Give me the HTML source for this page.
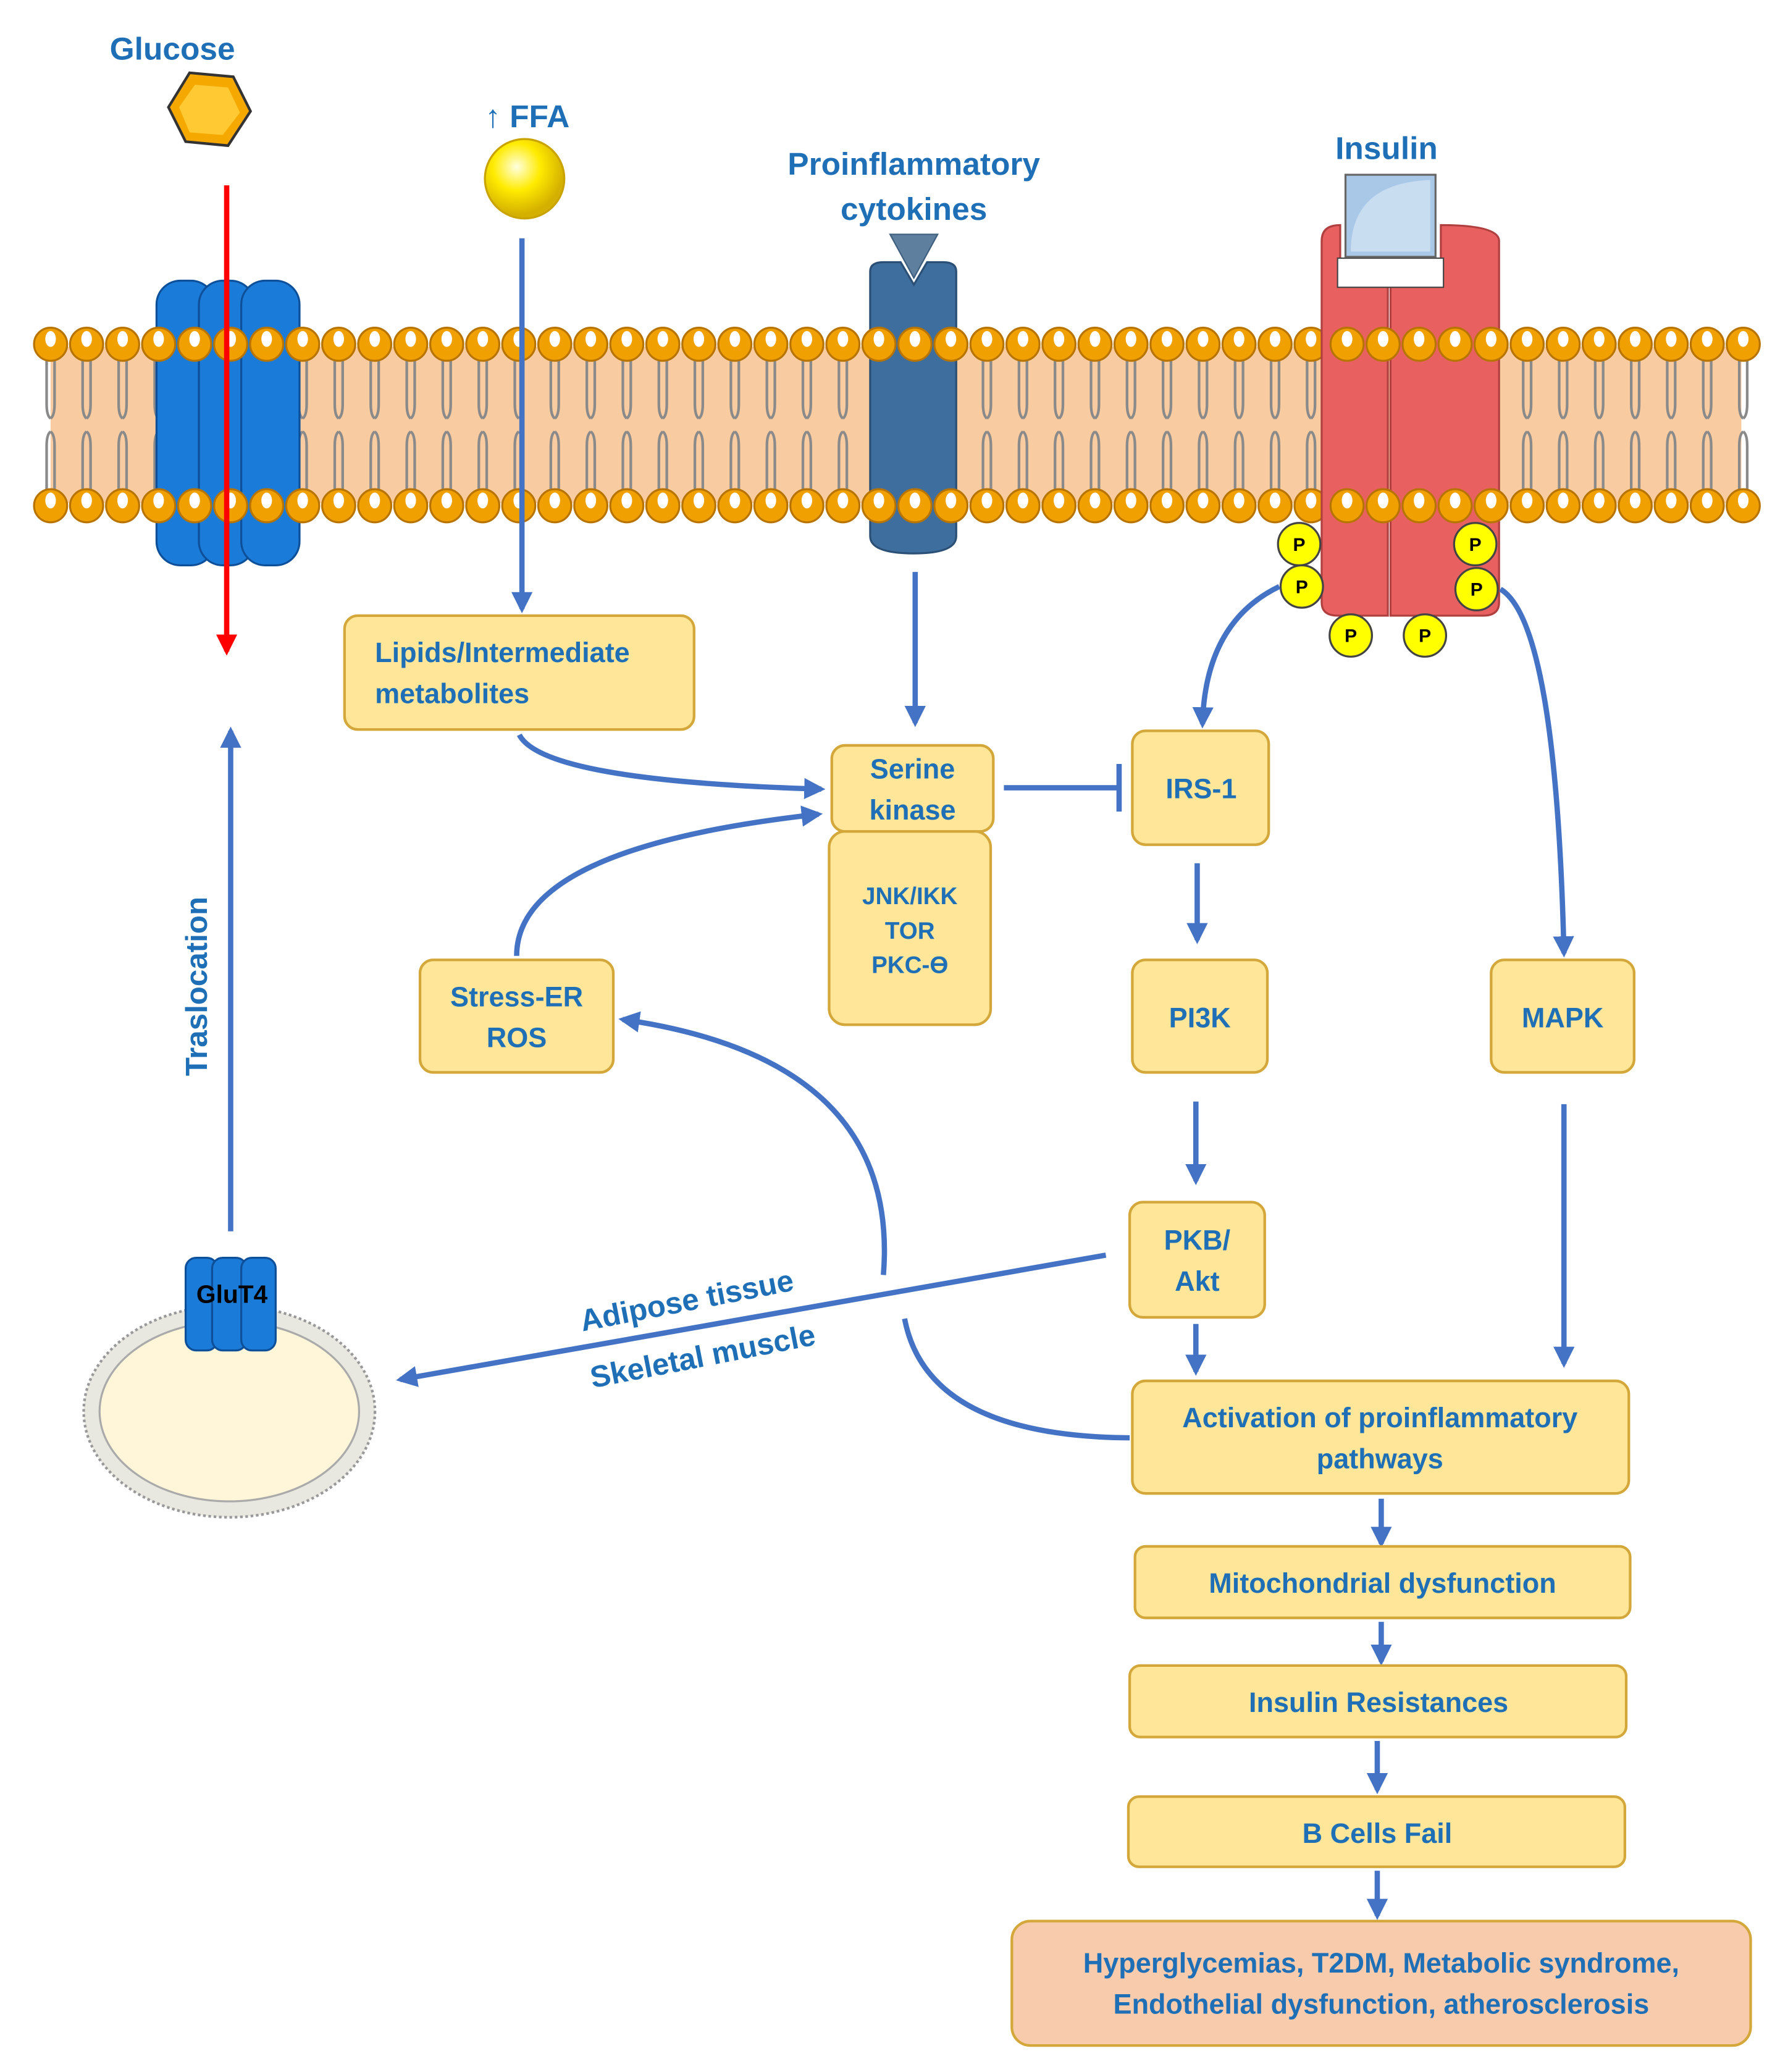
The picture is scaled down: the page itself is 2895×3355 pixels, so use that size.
<!DOCTYPE html>
<html><head><meta charset="utf-8"><style>
html,body{margin:0;padding:0;background:#fff}
svg{display:block}
text{font-family:"Liberation Sans",sans-serif;font-weight:bold;fill:#1F6FB7}
</style></head><body>
<svg width="2895" height="3355" viewBox="0 0 1350 1565" xmlns="http://www.w3.org/2000/svg">
<defs>
<marker id="ah" viewBox="0 0 10 10" refX="8" refY="5" markerWidth="4" markerHeight="4" orient="auto"><path d="M0,0L10,5L0,10z" fill="#4472C4"/></marker>
<marker id="ahr" viewBox="0 0 10 10" refX="8" refY="5" markerWidth="4" markerHeight="4" orient="auto"><path d="M0,0L10,5L0,10z" fill="#F00"/></marker>
<radialGradient id="ball" cx="40%" cy="35%" r="60%"><stop offset="0" stop-color="#FFFFE0"/><stop offset="0.5" stop-color="#FFEB00"/><stop offset="1" stop-color="#D4B000"/></radialGradient>
</defs>
<rect x="38" y="262" width="1277" height="118" fill="#F8CBA0"/>
<g id="tl" stroke="#8a8a8a" stroke-width="2" fill="none"></g>
<g id="heads" fill="#F0A000" stroke="#B87400" stroke-width="1.5"></g>
<g fill="#1A7BD8" stroke="#0E4F99" stroke-width="1.5">
<rect x="118" y="212" width="44" height="215" rx="18"/>
<rect x="150" y="212" width="42" height="215" rx="18"/>
<rect x="182" y="212" width="44" height="215" rx="18"/>
</g>
<path d="M657,205 Q657,198 667,198 L680,198 L690,215 L700,198 L712,198 Q722,198 722,205 L722,405 Q722,418 690,418 Q657,418 657,405Z" fill="#3E6E9E" stroke="#2B4F75" stroke-width="1.5"/>
<path d="M672,177 L708,177 L690,210Z" fill="#5E7F9E" stroke="#3E5E7E"/>
<g fill="#E86060" stroke="#B04040" stroke-width="1.5">
<path d="M998,182 Q998,170 1012,170 L1012,215 L1048,215 L1048,465 L1010,465 Q998,465 998,455Z"/>
<path d="M1050,215 L1088,215 L1088,170 Q1132,170 1132,182 L1132,455 Q1132,465 1120,465 L1050,465Z"/>
</g>
<rect x="1010" y="195" width="80" height="22" fill="#fff" stroke="#444"/>
<rect x="1016" y="132" width="68" height="62" fill="#A9C8E8" stroke="#666" stroke-width="1.5"/>
<path d="M1020,190 Q1020,138 1080,136 L1080,190Z" fill="#C9DDF0"/>
<g fill="#F0A000" stroke="#B87400" stroke-width="1.5" id="h"></g>
<g fill="#FFFF00" stroke="#444" stroke-width="1.5">
<circle cx="981" cy="411" r="16"/><circle cx="983" cy="443" r="16"/><circle cx="1020" cy="480" r="16"/><circle cx="1076" cy="480" r="16"/><circle cx="1114" cy="411" r="16"/><circle cx="1115" cy="445" r="16"/>
</g>
<g font-size="14" text-anchor="middle"><text x="981" y="416" style="fill:#000">P</text><text x="983" y="448" style="fill:#000">P</text><text x="1020" y="485" style="fill:#000">P</text><text x="1076" y="485" style="fill:#000">P</text><text x="1114" y="416" style="fill:#000">P</text><text x="1115" y="450" style="fill:#000">P</text></g>
<path d="M143,55 L176,58 L189,84 L172,110 L140,107 L127,81Z" fill="#F5A800" stroke="#333" stroke-width="2"/>
<path d="M147,64 L172,66 L181,85 L168,102 L143,100 L135,81Z" fill="#FFC933"/>
<text x="130" y="45" font-size="24" text-anchor="middle">Glucose</text>
<circle cx="396" cy="135" r="30" fill="url(#ball)" stroke="#C9A400" stroke-width="1.5"/>
<text x="398" y="96" font-size="24" text-anchor="middle">↑ FFA</text>
<text x="690" y="132" font-size="24" text-anchor="middle">Proinflammatory</text>
<text x="690" y="166" font-size="24" text-anchor="middle">cytokines</text>
<text x="1047" y="120" font-size="24" text-anchor="middle">Insulin</text>
<g stroke="#4472C4" stroke-width="4" fill="none" marker-end="url(#ah)">
<path d="M394,180 V460"/>
<path d="M691,432 V546"/>
<path d="M392,555 Q410,590 620,596"/>
<path d="M390,722 Q390,640 618,615"/>
<path d="M966,443 Q910,470 908,547"/>
<path d="M1133,445 Q1175,470 1181,720"/>
<path d="M904,652 V710"/>
<path d="M903,832 V892"/>
<path d="M903,1000 V1036"/>
<path d="M1181,834 L1181,1030"/>
<path d="M1043,1132 V1166"/>
<path d="M1043,1225 V1255"/>
<path d="M1040,1315 V1352"/>
<path d="M1040,1413 V1447"/>
<path d="M853,1086 Q700,1085 683,996 M667,963 Q680,800 470,770"/>
<path d="M835,948 L302,1042"/>
<path d="M174,930 V552"/>
</g>
<path d="M758,595 H843 M845,577 V613" stroke="#4472C4" stroke-width="4" fill="none"/>
<path d="M171,140 V492" stroke="#F00" stroke-width="4" marker-end="url(#ahr)"/>
<g fill="#FFE699" stroke="#D4A73A" stroke-width="2">
<rect x="260" y="465" width="264" height="86" rx="10"/>
<rect x="626" y="628" width="122" height="146" rx="12"/>
<rect x="628" y="563" width="122" height="65" rx="10"/>
<rect x="855" y="552" width="103" height="86" rx="10"/>
<rect x="855" y="725" width="102" height="85" rx="10"/>
<rect x="853" y="908" width="102" height="87" rx="10"/>
<rect x="1126" y="725" width="108" height="85" rx="10"/>
<rect x="317" y="725" width="146" height="85" rx="10"/>
<rect x="855" y="1043" width="375" height="85" rx="10"/>
<rect x="857" y="1168" width="374" height="54" rx="8"/>
<rect x="853" y="1258" width="375" height="54" rx="8"/>
<rect x="852" y="1357" width="375" height="53" rx="8"/>
</g>
<rect x="764" y="1451" width="558" height="94" rx="14" fill="#F8CBAD" stroke="#D4A73A" stroke-width="2"/>
<g font-size="21">
<text x="283" y="500">Lipids/Intermediate</text><text x="283" y="531">metabolites</text>
<text x="689" y="588" text-anchor="middle">Serine</text><text x="689" y="619" text-anchor="middle">kinase</text>
<text x="907" y="603" text-anchor="middle">IRS-1</text>
<text x="906" y="776" text-anchor="middle">PI3K</text>
<text x="1180" y="776" text-anchor="middle">MAPK</text>
<text x="904" y="944" text-anchor="middle">PKB/</text><text x="904" y="975" text-anchor="middle">Akt</text>
<text x="390" y="760" text-anchor="middle">Stress-ER</text><text x="390" y="791" text-anchor="middle">ROS</text>
<text x="1042" y="1078" text-anchor="middle">Activation of proinflammatory</text><text x="1042" y="1109" text-anchor="middle">pathways</text>
<text x="1044" y="1203" text-anchor="middle">Mitochondrial dysfunction</text>
<text x="1041" y="1293" text-anchor="middle">Insulin Resistances</text>
<text x="1040" y="1392" text-anchor="middle">B Cells Fail</text>
<text x="1043" y="1490" text-anchor="middle">Hyperglycemias, T2DM, Metabolic syndrome,</text>
<text x="1043" y="1521" text-anchor="middle">Endothelial dysfunction, atherosclerosis</text>
</g>
<g font-size="18" text-anchor="middle"><text x="687" y="683">JNK/IKK</text><text x="687" y="709">TOR</text><text x="687" y="735">PKC-ϴ</text></g>
<text x="0" y="0" font-size="23" text-anchor="middle" transform="translate(156,745) rotate(-90)">Traslocation</text>
<text x="0" y="0" font-size="23" text-anchor="middle" transform="translate(520,990) rotate(-11)">Adipose tissue</text>
<text x="0" y="0" font-size="23" text-anchor="middle" transform="translate(532,1032) rotate(-11)">Skeletal muscle</text>
<ellipse cx="173" cy="1066" rx="110" ry="80" fill="#E8E8E0" stroke="#999" stroke-width="2" stroke-dasharray="2,2"/>
<ellipse cx="173" cy="1066" rx="98" ry="68" fill="#FFF6D9" stroke="#AAA" stroke-width="1.5"/>
<g fill="#1A7BD8" stroke="#0E4F99" stroke-width="1.5">
<rect x="140" y="950" width="24" height="70" rx="8"/><rect x="160" y="950" width="26" height="70" rx="8"/><rect x="182" y="950" width="26" height="70" rx="8"/>
</g>
<text x="175" y="984" font-size="19" text-anchor="middle" style="fill:#000">GluT4</text>
</svg>
<script>
(function(){var ns="http://www.w3.org/2000/svg",g=document.getElementById("heads"),h=document.getElementById("h"),tl=document.getElementById("tl");
for(var i=0;i<48;i++){var x=38+i*27.2;
var p=document.createElementNS(ns,"path");
p.setAttribute("d","M"+(x-3)+",272 V305 Q"+(x-3)+",314 "+x+",316 M"+(x+3)+",272 V305 Q"+(x+3)+",314 "+x+",316 M"+(x-3)+",370 V337 Q"+(x-3)+",328 "+x+",326 M"+(x+3)+",370 V337 Q"+(x+3)+",328 "+x+",326");
tl.appendChild(p);
[260,382].forEach(function(y){
var inP=(x>112&&x<232)||(x>650&&x<728)||(x>992&&x<1138);
var t=inP?h:g;
var c=document.createElementNS(ns,"circle");c.setAttribute("cx",x);c.setAttribute("cy",y);c.setAttribute("r",12.5);t.appendChild(c);
var e=document.createElementNS(ns,"ellipse");e.setAttribute("cx",x);e.setAttribute("cy",y-4);e.setAttribute("rx",4);e.setAttribute("ry",6);e.setAttribute("fill","#fff");e.setAttribute("stroke","none");t.appendChild(e);});}
})();
</script>
</body></html>
